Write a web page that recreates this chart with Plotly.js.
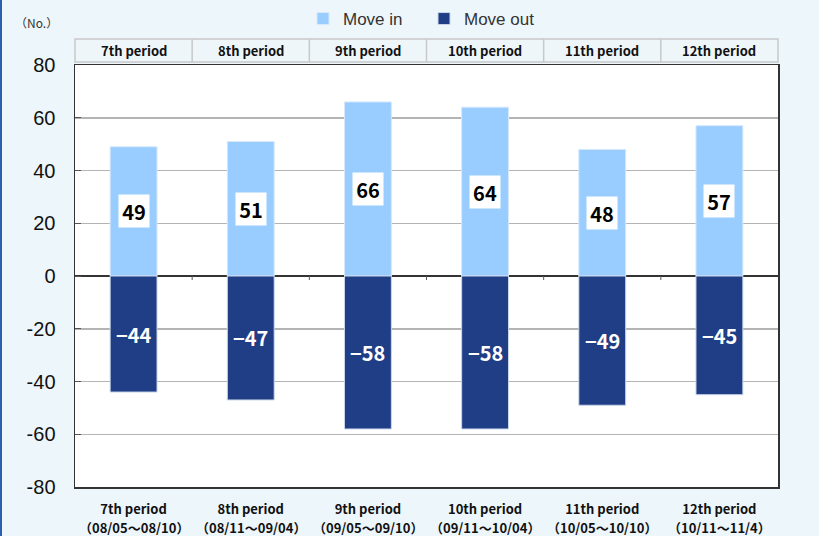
<!DOCTYPE html>
<html>
<head>
<meta charset="utf-8">
<script src="https://cdn.plot.ly/plotly-3.0.1.min.js"></script>
<style>
  html, body { margin: 0; padding: 0; background: #edf6fb; }
  #chart { width: 819px; height: 536px; }
</style>
</head>
<body>
<div id="chart"></div>
<script>
// Period names and their date ranges
const periods = ['7th period', '8th period', '9th period', '10th period', '11th period', '12th period'];
const ranges = ['（08/05～08/10）', '（08/11～09/04）', '（09/05～09/10）', '（09/11～10/04）', '（10/05～10/10）', '（10/11～11/4）'];

// Counts per period
const moveIn = [49, 51, 66, 64, 48, 57];
const moveOut = [-44, -47, -58, -58, -49, -45];

const yTicks = [-80, -60, -40, -20, 0, 20, 40, 60, 80];

const W = 819, H = 536;
const M = { l: 75, r: 41, t: 65, b: 49, autoexpand: false };
const PW = W - M.l - M.r, PH = H - M.t - M.b;
const px = v => v / PW;          // pixel offset -> paper x
const py = v => v / PH;          // pixel offset -> paper y

const labelFont = 'Noto Sans CJK JP, sans-serif';
const idx = periods.map((_, i) => i);

const traces = [
  {
    type: 'bar', name: 'Move in', x: idx, y: moveIn,
    marker: { color: '#99ccff', line: { color: '#d6e9fb', width: 1 } },
    hoverinfo: 'skip'
  },
  {
    type: 'bar', name: 'Move out', x: idx, y: moveOut,
    marker: { color: '#203e86', line: { color: '#c9d6ea', width: 1 } },
    hoverinfo: 'skip'
  }
];

const fmt = v => (v < 0 ? '−' + Math.abs(v) : String(v));

const annotations = [];
// value labels centred on each bar
moveIn.forEach((v, i) => annotations.push({
  x: i, y: v / 2, xref: 'x', yref: 'y', text: '<b>' + fmt(v) + '</b>',
  showarrow: false, bgcolor: '#ffffff', borderpad: 0, width: 30, height: 32,
  font: { family: labelFont, size: 20, color: '#000000' }
}));
moveOut.forEach((v, i) => annotations.push({
  x: i, y: v / 2, xref: 'x', yref: 'y', text: '<b>' + fmt(v) + '</b>',
  showarrow: false,
  font: { family: labelFont, size: 20, color: '#ffffff' }
}));
// header row with period names
periods.forEach((p, i) => annotations.push({
  x: i, y: 1 + py(14.5), xref: 'x', yref: 'paper', xanchor: 'center', yanchor: 'middle',
  text: '<b>' + p + '</b>', showarrow: false,
  font: { family: labelFont, size: 13, color: '#111111' }
}));
// date range under each period name
ranges.forEach((r, i) => annotations.push({
  x: i, y: -py(40), xref: 'x', yref: 'paper', xanchor: 'center', yanchor: 'middle',
  text: '<b>' + r + '</b>', showarrow: false,
  font: { family: labelFont, size: 13, color: '#111111' }
}));
// unit label
annotations.push({
  x: px(-62), y: 1 + py(43), xref: 'paper', yref: 'paper', xanchor: 'left', yanchor: 'middle',
  text: '（No.）', showarrow: false,
  font: { family: labelFont, size: 12, color: '#333333' }
});

const shapes = [];
// header box
shapes.push({
  type: 'rect', xref: 'paper', yref: 'paper',
  x0: 0, x1: 1, y0: 1 + py(3), y1: 1 + py(26),
  fillcolor: '#eef6fa', line: { color: '#c8c8c8', width: 1.5 }, layer: 'below'
});
// header cell dividers and small ticks on the zero line between categories
for (let i = 0; i < periods.length - 1; i++) {
  shapes.push({
    type: 'line', xref: 'x', yref: 'paper',
    x0: i + 0.5, x1: i + 0.5, y0: 1 + py(3), y1: 1 + py(26),
    line: { color: '#c8c8c8', width: 1.5 }
  });
  shapes.push({
    type: 'line', xref: 'x', yref: 'y',
    x0: i + 0.5, x1: i + 0.5, y0: 0, y1: -1.5,
    line: { color: '#555555', width: 1 }
  });
}
// blue rule along the left edge of the figure
shapes.push({
  type: 'line', xref: 'paper', yref: 'paper',
  x0: px(-74), x1: px(-74), y0: -py(M.b), y1: 1 + py(M.t),
  line: { color: '#2d5fb0', width: 2 }
});

const layout = {
  width: W, height: H,
  margin: M,
  paper_bgcolor: '#edf6fb',
  plot_bgcolor: '#ffffff',
  barmode: 'relative',
  bargap: 0.6,
  showlegend: true,
  legend: {
    orientation: 'h', x: px(228), xanchor: 'left', y: 1 + py(46), yanchor: 'middle',
    bgcolor: 'rgba(0,0,0,0)', entrywidth: 76, entrywidthmode: 'pixels',
    font: { family: 'Liberation Sans, Arial, sans-serif', size: 17, color: '#333333' },
    traceorder: 'normal'
  },
  xaxis: {
    range: [-0.5, periods.length - 0.5],
    tickvals: idx,
    ticktext: periods.map(p => '<b>' + p + '</b>'),
    tickfont: { family: labelFont, size: 13, color: '#111111' },
    ticks: '', ticklabelstandoff: 10, showgrid: false, zeroline: false,
    showline: true, linecolor: '#333333', linewidth: 1.5, mirror: true,
    fixedrange: true
  },
  yaxis: {
    range: [-80, 80],
    tickvals: yTicks,
    ticktext: yTicks.map(String),
    tickfont: { family: 'Liberation Sans, Arial, sans-serif', size: 20, color: '#111111' },
    ticks: 'inside', ticklen: 6, tickcolor: '#555555',
    ticklabelstandoff: 14,
    showgrid: true, gridcolor: '#b4b4b4', gridwidth: 1.5,
    zeroline: true, zerolinecolor: '#333333', zerolinewidth: 1.5,
    showline: true, linecolor: '#333333', linewidth: 1.5, mirror: true,
    fixedrange: true
  },
  annotations: annotations,
  shapes: shapes
};

Plotly.newPlot('chart', traces, layout, { displayModeBar: false, staticPlot: true });
</script>
</body>
</html>
